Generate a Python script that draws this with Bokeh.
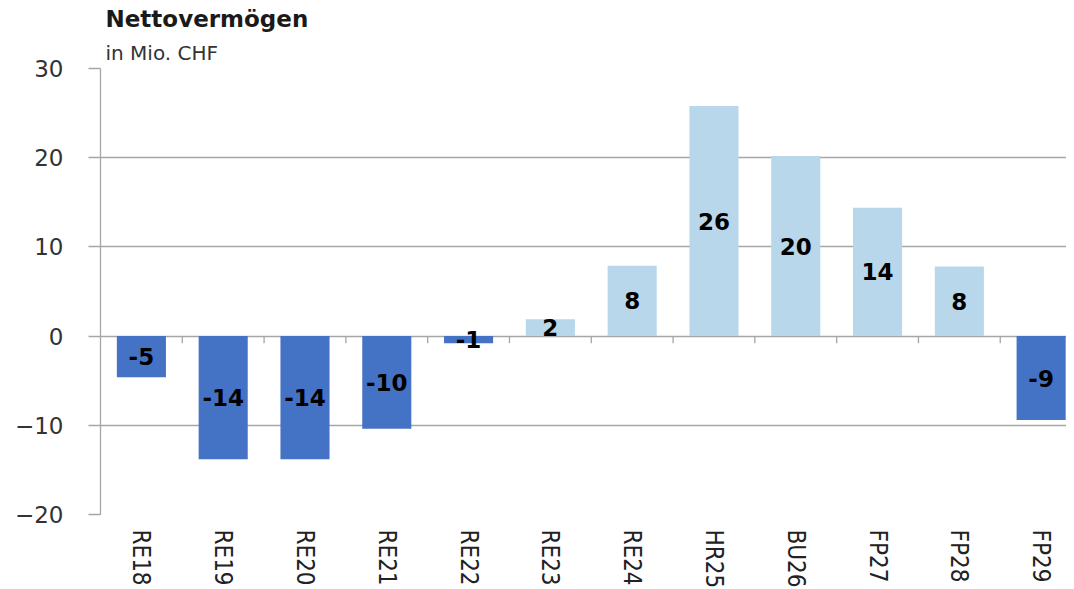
import numpy as np
from bokeh.plotting import figure
from bokeh.models import ColumnDataSource, Title, Range1d
from bokeh.embed import file_html
from bokeh.resources import INLINE
from bokeh.core.properties import value

categories = ["RE18", "RE19", "RE20", "RE21", "RE22", "RE23",
              "RE24", "HR25", "BU26", "FP27", "FP28", "FP29"]
values = [-4.6, -13.8, -13.8, -10.4, -0.8, 1.9, 7.9, 25.8, 20.2, 14.4, 7.8, -9.4]
y_ticks = [-20, -10, 0, 10, 20, 30]

NEG = "#4472C4"
POS = "#B9D7EA"
GRID = "#a6a6a6"

x = list(range(len(categories)))
colors = [NEG if v < 0 else POS for v in values]
labels = [str(int(np.floor(v + 0.5))) for v in values]
src = ColumnDataSource(dict(x=x, top=values, color=colors, label=labels,
                            mid=[v / 2 for v in values]))

p = figure(frame_width=966, frame_height=446,
           x_range=Range1d(-0.5, len(categories) - 0.69),
           y_range=Range1d(y_ticks[0], y_ticks[-1]),
           output_backend="svg", toolbar_location=None,
           min_border_left=100, min_border_right=0, min_border_top=0,
           background_fill_color="white", border_fill_color="white")
p.outline_line_color = None

p.title.text = "Nettovermögen"
p.title.text_font = "DejaVu Sans"
p.title.text_font_size = "23px"
p.title.text_font_style = "bold"
p.title.text_color = "#1a1a1a"
p.title.align = "left"
p.title.offset = 5
p.title.standoff = 6
sub = Title(text="in Mio. CHF", text_font="DejaVu Sans", text_font_size="20px",
            text_font_style="normal", text_color="#333333", align="left",
            offset=5, standoff=8)
p.add_layout(sub, "above")

p.vbar(x="x", top="top", bottom=0, width=0.6, color="color", line_color=None, source=src)

# category separator ticks on the zero line
bounds = [i + 0.5 for i in range(len(categories) - 1)]
p.segment(x0=bounds, y0=[0] * len(bounds), x1=bounds, y1=[-0.8] * len(bounds),
          line_color=GRID, line_width=1.3)

p.text(x="x", y="mid", text="label", source=src, text_align="center",
       text_baseline="middle", text_font=value("DejaVu Sans"),
       text_font_size="23px", text_font_style="bold", text_color="black")

p.xgrid.grid_line_color = None
p.ygrid.grid_line_color = GRID
p.ygrid.grid_line_width = 1.3
p.ygrid.ticker = y_ticks

p.yaxis.ticker = y_ticks
p.yaxis.major_label_overrides = {t: (("\u2212" + str(-t)) if t < 0 else str(t)) for t in y_ticks}
p.yaxis.axis_line_color = GRID
p.yaxis.axis_line_width = 1.3
p.yaxis.major_tick_line_color = GRID
p.yaxis.major_tick_line_width = 1.3
p.yaxis.major_tick_out = 12
p.yaxis.major_tick_in = 0
p.yaxis.minor_tick_line_color = None
p.yaxis.major_label_standoff = 25
p.yaxis.major_label_text_font = "DejaVu Sans"
p.yaxis.major_label_text_font_size = "23px"
p.yaxis.major_label_text_color = "#333333"

p.xaxis.ticker = x
p.xaxis.major_label_overrides = {i: c for i, c in enumerate(categories)}
p.xaxis.major_label_orientation = "vertical"
p.xaxis.axis_line_color = None
p.xaxis.major_tick_line_color = None
p.xaxis.minor_tick_line_color = None
p.xaxis.major_tick_out = 0
p.xaxis.major_tick_in = 0
p.xaxis.major_label_standoff = 15
p.xaxis.major_label_text_font = "DejaVu Sans Condensed"
p.xaxis.major_label_text_font_size = "24px"
p.xaxis.major_label_text_color = "#222222"

open("out.html", "w").write(file_html(p, INLINE))
